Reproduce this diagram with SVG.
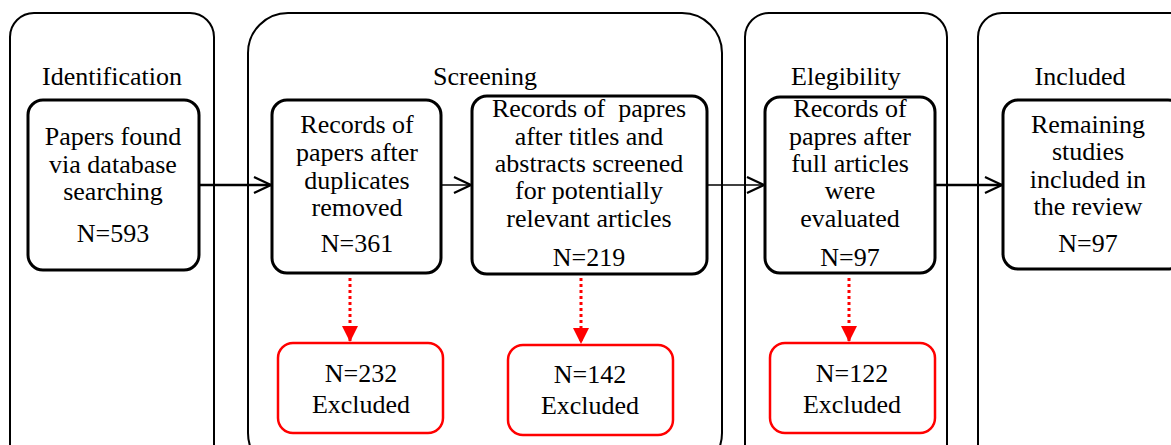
<svg xmlns="http://www.w3.org/2000/svg" width="1171" height="445" viewBox="0 0 1171 445">
<defs>
<style>
text{font-size:26px;fill:#000;text-anchor:middle}
.panel{fill:#fff;stroke:#000;stroke-width:2}
.box{fill:#fff;stroke:#000;stroke-width:3}
.rbox{fill:#fff;stroke:#f00;stroke-width:2.5}
.conn{stroke:#000;fill:none}
.dot{stroke:#f00;stroke-width:3;stroke-dasharray:3 3;fill:none}
</style>
<marker id="open" viewBox="0 0 20 20" refX="19" refY="10" markerWidth="20" markerHeight="20" markerUnits="userSpaceOnUse" orient="auto">
<path d="M2,2 L19,10 L2,18" fill="none" stroke="#000" stroke-width="2.2"/>
</marker>
<marker id="red" viewBox="0 0 20 20" refX="10" refY="19" markerWidth="20" markerHeight="20" markerUnits="userSpaceOnUse" orient="0">
<path d="M2,3 L18,3 L10,19 Z" fill="#f00"/>
</marker>
</defs>
<g font-family="Liberation Serif, Times New Roman, serif">
<g id="panel-identification"><rect class="panel" x="10" y="13" width="204" height="460" rx="24"/><text x="112" y="85">Identification</text></g>
<g id="panel-screening"><rect class="panel" x="248" y="13" width="474" height="460" rx="40"/><text x="485" y="85">Screening</text></g>
<g id="panel-elegibility"><rect class="panel" x="745" y="13" width="202" height="460" rx="24"/><text x="846" y="85">Elegibility</text></g>
<g id="panel-included"><rect class="panel" x="978" y="13" width="220" height="460" rx="24"/><text x="1080" y="85">Included</text></g>

<g id="connectors">
<line class="conn" stroke-width="2.5" x1="199" y1="185" x2="271" y2="185" marker-end="url(#open)"/>
<line class="conn" stroke-width="1.5" x1="441" y1="185" x2="471" y2="185" marker-end="url(#open)"/>
<line class="conn" stroke-width="1.5" x1="707" y1="185" x2="764" y2="185" marker-end="url(#open)"/>
<line class="conn" stroke-width="2.5" x1="935" y1="185" x2="1002" y2="185" marker-end="url(#open)"/>
<line class="dot" x1="350" y1="278" x2="350" y2="342" marker-end="url(#red)"/>
<line class="dot" x1="581" y1="278" x2="581" y2="344" marker-end="url(#red)"/>
<line class="dot" x1="849" y1="278" x2="849" y2="342" marker-end="url(#red)"/>
</g>

<g id="box-found"><rect class="box" x="28" y="100" width="171" height="170" rx="15"/>
<text x="113" y="145">Papers found</text><text x="113" y="173">via database</text><text x="113" y="200">searching</text><text x="113" y="242">N=593</text></g>
<g id="box-duplicates"><rect class="box" x="272" y="100" width="169" height="173" rx="15"/>
<text x="357" y="133">Records of</text><text x="357" y="161">papers after</text><text x="357" y="189">duplicates</text><text x="357" y="216">removed</text><text x="357" y="252">N=361</text></g>
<g id="box-titles"><rect class="box" x="472" y="96" width="235" height="178" rx="15"/>
<text x="589" y="117" xml:space="preserve">Records of  papres</text><text x="589" y="145">after titles and</text><text x="589" y="172">abstracts screened</text><text x="589" y="199">for potentially</text><text x="589" y="227">relevant articles</text><text x="589" y="266">N=219</text></g>
<g id="box-full"><rect class="box" x="765" y="97" width="170" height="176" rx="15"/>
<text x="850" y="117">Records of</text><text x="850" y="145">papres after</text><text x="850" y="172">full articles</text><text x="850" y="199">were</text><text x="850" y="227">evaluated</text><text x="850" y="266">N=97</text></g>
<g id="box-remaining"><rect class="box" x="1003" y="100" width="180" height="169" rx="15"/>
<text x="1088" y="133">Remaining</text><text x="1088" y="160">studies</text><text x="1088" y="188">included in</text><text x="1088" y="215">the review</text><text x="1088" y="252">N=97</text></g>

<g id="excl-1"><rect class="rbox" x="278" y="343" width="165" height="90" rx="15"/><text x="361" y="382">N=232</text><text x="361" y="413">Excluded</text></g>
<g id="excl-2"><rect class="rbox" x="508" y="345" width="165" height="90" rx="15"/><text x="590" y="383">N=142</text><text x="590" y="414">Excluded</text></g>
<g id="excl-3"><rect class="rbox" x="770" y="343" width="165" height="90" rx="15"/><text x="852" y="382">N=122</text><text x="852" y="413">Excluded</text></g>
</g>
</svg>
